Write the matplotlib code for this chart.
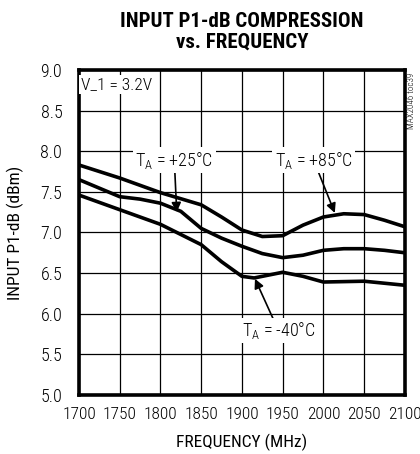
#!/usr/bin/env python3
"""Input P1-dB compression vs frequency -> out.png"""
import matplotlib
matplotlib.use("Agg")
import matplotlib.pyplot as plt

freq_85 = [1700, 1750, 1800, 1850, 1875, 1900, 1925, 1950, 1975, 2000, 2025, 2050, 2075, 2100]
p1db_85 = [7.83, 7.67, 7.49, 7.34, 7.19, 7.03, 6.95, 6.96, 7.09, 7.19, 7.23, 7.22, 7.15, 7.07]

freq_25 = [1700, 1750, 1775, 1800, 1825, 1850, 1875, 1900, 1925, 1950, 1975, 2000, 2025, 2050, 2075, 2100]
p1db_25 = [7.65, 7.44, 7.41, 7.36, 7.26, 7.05, 6.93, 6.83, 6.74, 6.69, 6.72, 6.78, 6.80, 6.80, 6.78, 6.75]

freq_m40 = [1700, 1750, 1800, 1850, 1875, 1900, 1915, 1950, 1975, 2000, 2050, 2100]
p1db_m40 = [7.46, 7.28, 7.10, 6.85, 6.64, 6.46, 6.44, 6.51, 6.46, 6.39, 6.40, 6.35]

xticks = [1700, 1750, 1800, 1850, 1900, 1950, 2000, 2050, 2100]
yticks = [5.0, 5.5, 6.0, 6.5, 7.0, 7.5, 8.0, 8.5, 9.0]

plt.rcParams["font.family"] = ["Roboto Condensed", "DejaVu Sans"]
plt.rcParams["font.weight"] = 300
plt.rcParams["mathtext.fontset"] = "custom"
plt.rcParams["mathtext.rm"] = "Roboto Condensed:light"

fig = plt.figure(figsize=(4.2, 4.54), dpi=100)
ax = fig.add_axes([0.188, 0.130, 0.776, 0.716])

for f, p in [(freq_85, p1db_85), (freq_25, p1db_25), (freq_m40, p1db_m40)]:
    ax.plot(f, p, color="black", lw=2.6, solid_capstyle="butt", zorder=3)

ax.set_xlim(1700, 2100)
ax.set_ylim(5.0, 9.0)
ax.set_xticks(xticks)
ax.set_yticks(yticks)
ax.set_xticklabels([str(t) for t in xticks])
ax.set_yticklabels([f"{t:.1f}" for t in yticks])
ax.tick_params(axis="y", length=0, labelsize=13, pad=12)
ax.tick_params(axis="x", length=0, labelsize=12.5, pad=9)
ax.grid(True, color="black", lw=0.9)
for s in ax.spines.values():
    s.set_linewidth(2.6)

ax.set_xlabel("FREQUENCY (MHz)", fontsize=12.5, labelpad=8)
ax.set_ylabel("INPUT P1-dB (dBm)", fontsize=12.5, labelpad=12)

fig.text(0.576, 0.973, "INPUT P1-dB COMPRESSION\nvs. FREQUENCY", ha="center", va="top",
         fontsize=15, fontweight="black", linespacing=1.1)

box = dict(facecolor="white", edgecolor="none", pad=1.5)
ax.text(1702, 8.82, "V_1 = 3.2V", fontsize=12.5, ha="left", va="center", bbox=box, zorder=4)
ax.text(2103, 8.97, "MAX2046 toc39", fontsize=6.5, rotation=90, ha="left", va="top")

ap = dict(arrowstyle="-|>", color="black", lw=1.2, mutation_scale=14, shrinkA=0, shrinkB=0)
ax.annotate("T$_\\mathregular{A}$ = +25°C", xy=(1820, 7.25), xytext=(1817, 7.89),
            fontsize=13, ha="center", va="center", bbox=box, arrowprops=ap, zorder=4)
ax.annotate("T$_\\mathregular{A}$ = +85°C", xy=(2014, 7.24), xytext=(1988, 7.89),
            fontsize=13, ha="center", va="center", bbox=box, arrowprops=ap, zorder=4)
ax.annotate("T$_\\mathregular{A}$ = -40°C", xy=(1916, 6.43), xytext=(1945, 5.79),
            fontsize=13, ha="center", va="center", bbox=box, arrowprops=ap, zorder=4)

fig.savefig("out.png", dpi=100)
